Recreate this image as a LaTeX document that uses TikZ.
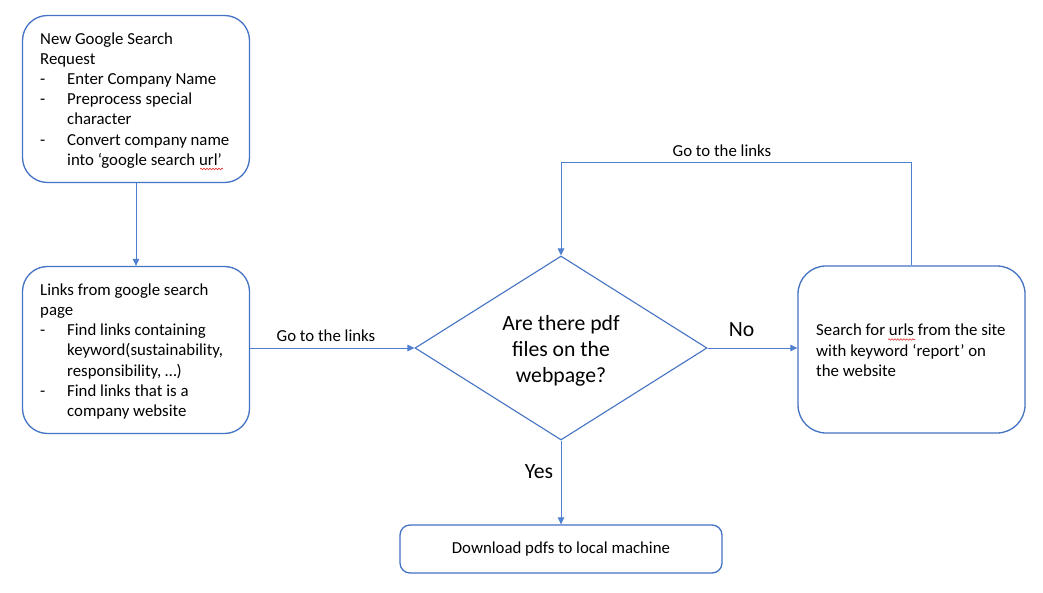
\documentclass[tikz,border=0pt]{standalone}
\usepackage{fontspec}
\setmainfont{Carlito}
\usetikzlibrary{arrows.meta,shapes.geometric,decorations.pathmorphing}
\definecolor{bord}{HTML}{4472C4}
\definecolor{conncol}{HTML}{4F7FD0}
\definecolor{spell}{HTML}{E03030}
\newcommand\litem{\makebox[27pt][l]{-}}
\newcommand\lcont{\hspace*{27pt}}
\begin{document}
\begin{tikzpicture}[x=1pt,y=-1pt,
  box/.style={draw=bord, line width=1.3pt, rounded corners=25pt, fill=white, inner sep=0pt},
  txt/.style={font=\fontsize{16.8pt}{20.2pt}\selectfont, align=left, inner sep=0pt, anchor=west},
  bigtxt/.style={font=\fontsize{21.7pt}{26pt}\selectfont, align=center, inner sep=0pt},
  conn/.style={draw=conncol, line width=1pt, -{Triangle[length=7pt,width=6.5pt]}},
  lbl/.style={font=\fontsize{16.8pt}{20.2pt}\selectfont, inner sep=0pt},
  biglbl/.style={font=\fontsize{21.7pt}{26pt}\selectfont, inner sep=0pt},
  squig/.style={draw=spell, line width=0.6pt, decorate, decoration={snake, amplitude=0.8pt, segment length=3pt}}]
\useasboundingbox (0,0) rectangle (1043,593);

% boxes
\node[box, minimum width=227pt, minimum height=167pt] (box1) at (136,99) {};
\node[box, minimum width=227pt, minimum height=167pt] (box2) at (136,350) {};
\node[box, rounded corners=28pt, minimum width=227pt, minimum height=167pt] (search) at (911.5,349.5) {};
\node[box, rounded corners=10pt, minimum width=322pt, minimum height=48pt] (dl) at (561,549) {};
\node[diamond, draw=bord, line width=1.1pt, minimum width=292pt, minimum height=184pt, inner sep=0pt] (dec) at (561,348) {};

% texts
\node[txt] (t1) at (40,100.4) {New Google Search\\Request\\\litem Enter Company Name\\\litem Preprocess special\\\lcont character\\\litem Convert company name\\\lcont into `google search url'};
\node[txt] (t2) at (40,351.4) {Links from google search\\page\\\litem Find links containing\\\lcont keyword(sustainability,\\\lcont responsibility, …)\\\litem Find links that is a\\\lcont company website};
\node[txt] (t3) at (816,350.3) {Search for urls from the site\\with keyword `report' on\\the website};
\node[bigtxt] (t4) at (561,350.5) {Are there pdf\\files on the\\webpage?};
\node[lbl] (t5) at (561,549) {Download pdfs to local machine};

% spelling marks
\draw[squig] (200,169) -- (223,169);
\draw[squig] (888,339.5) -- (915,339.5);

% connectors
\coordinate (loopc) at (561,163);
\draw[conn] (box1.south) -- (box2.north);
\draw[conn] (box2.east |- dec.west) -- (dec.west);
\draw[conn] (dec.east) -- (search.west |- dec.east);
\draw[conn] (search.north) |- (loopc) -- (dec.north);
\draw[conn] (dec.south) -- (dl.north);

% labels
\node[lbl] (l1) at (326,336) {Go to the links};
\node[lbl] (l2) at (722,151) {Go to the links};
\node[biglbl] (l3) at (741.5,330) {No};
\node[biglbl] (l4) at (539,472) {Yes};
\end{tikzpicture}
\end{document}
